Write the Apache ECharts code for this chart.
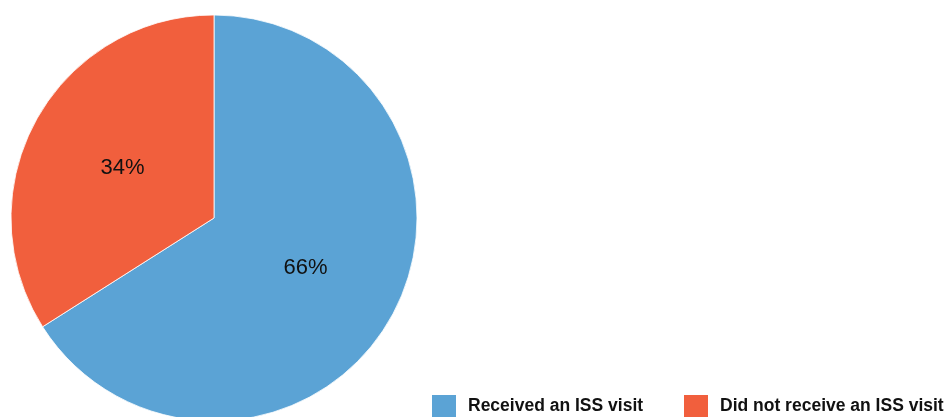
<!DOCTYPE html>
<html>
<head>
<meta charset="utf-8">
<script src="https://cdn.jsdelivr.net/npm/echarts@6/dist/echarts.min.js"></script>
<style>
  html, body { margin: 0; padding: 0; background: #ffffff; }
  #chart { width: 944px; height: 417px; }
</style>
</head>
<body>
<div id="chart"></div>
<script>
// Share of respondents by ISS visit status
const categories = ['Received an ISS visit', 'Did not receive an ISS visit'];
const shares = [66, 34];
const colors = ['#5BA3D5', '#F15F3D'];

const FONT = '"Liberation Sans", Arial, Helvetica, sans-serif';

// one legend block per category so each swatch sits at its own x
const legendLefts = [430, 682];
const legendStyle = {
  top: 393,
  icon: 'rect',
  itemWidth: 26,
  itemHeight: 24,
  padding: 0,
  textStyle: {
    fontFamily: FONT,
    fontWeight: 'bold',
    fontSize: 17.5,
    color: '#111111',
    padding: [5, 0, 0, 6]
  }
};

const chart = echarts.init(document.getElementById('chart'), null, { renderer: 'canvas' });

chart.setOption({
  animation: false,
  backgroundColor: '#ffffff',
  legend: categories.map((name, i) => Object.assign({}, legendStyle, {
    left: legendLefts[i],
    data: [name]
  })),
  series: [{
    type: 'pie',
    center: [214, 218],
    radius: 203,
    startAngle: 90,
    clockwise: true,
    silent: true,
    itemStyle: { borderColor: '#ffffff', borderWidth: 0.8 },
    label: {
      show: true,
      position: 'inside',
      formatter: '{c}%',
      fontFamily: FONT,
      fontSize: 22,
      color: '#111111'
    },
    labelLine: { show: false },
    data: categories.map((name, i) => ({
      name: name,
      value: shares[i],
      itemStyle: { color: colors[i] }
    }))
  }]
});
</script>
</body>
</html>
